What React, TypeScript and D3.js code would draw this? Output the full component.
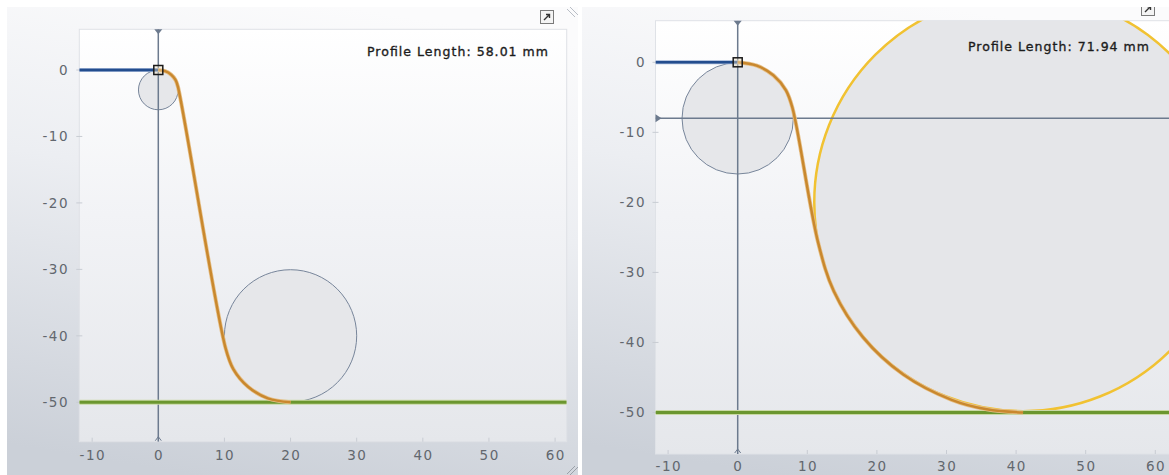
import React from 'react';
import * as d3 from 'd3';

// ---------- data ----------
const xTicks = [-10, 0, 10, 20, 30, 40, 50, 60];
const yTicks = [0, -10, -20, -30, -40, -50];
const profileLengths = [58.01, 71.94];
const floorLevels = [-50, -50];
const horizontalCursor = [null, -8];

// tool circles: [cx, cy, r]
const leftDies = [[0, -3, 3], [20, -40, 10]];
const rightDies = [[0, -8, 8]];
const rightRolls = [[41, -20, 30]];

// orange formed profile
const leftProfile = [
  [0, 0], [1.03, -0.18], [1.93, -0.7], [2.6, -1.5], [2.95, -2.46],
  [10.16, -41.8], [11.34, -45], [13.57, -47.66], [16.58, -49.4], [20, -50],
];
const rightProfile = [
  [0, 0], [2.74, -0.48], [5.14, -1.87], [6.93, -4], [7.86, -6.49],
  [11.54, -25.67], [13.81, -32.68], [18.02, -39.28], [23.79, -44.57],
  [30.74, -48.19], [35.79, -49.54], [41, -50],
];

// ---------- layout (pixels) ----------
const layouts = [
  {
    id: 'L', panelX: 7, panelW: 571, plotL: 79.3, plotR: 566.7, plotT: 29.3, plotB: 441.7,
    x0: 158.3, xUnit: 6.613, y0: 70, yUnit: 6.646,
    xLabelBase: 459.5, yLabelRight: 69, textRight: 548, textBase: 56,
    iconX: 540, iconY: 10,
  },
  {
    id: 'R', panelX: 582, panelW: 600, plotL: 655.5, plotR: 1175, plotT: 20.7, plotB: 454,
    x0: 737.7, xUnit: 6.96, y0: 62.3, yUnit: 7.004,
    xLabelBase: 471, yLabelRight: 646, textRight: 1149, textBase: 51,
    iconX: 1141, iconY: 2,
  },
];

const panelData = [
  { profile: leftProfile, dies: leftDies, rolls: [] as number[][] },
  { profile: rightProfile, dies: rightDies, rolls: rightRolls },
];

const FONT = '"DejaVu Sans", Verdana, sans-serif';

function Panel({ idx }: { idx: number }) {
  const L = layouts[idx];
  const D = panelData[idx];
  const x = d3.scaleLinear().domain([0, 60]).range([L.x0, L.x0 + 60 * L.xUnit]);
  const y = d3.scaleLinear().domain([0, -50]).range([L.y0, L.y0 + 50 * L.yUnit]);
  const xMin = x.invert(L.plotL);
  const line = d3
    .line<number[]>()
    .x((d) => x(d[0]))
    .y((d) => y(d[1]))
    .curve(d3.curveCatmullRom.alpha(0.5));
  const straight = d3
    .line<number[]>()
    .x((d) => x(d[0]))
    .y((d) => y(d[1]));
  const feed = [[xMin, 0], [0, 0]];
  const floor = floorLevels[idx];
  const hc = horizontalCursor[idx];
  const clipId = `clip${L.id}`;
  const plotW = L.plotR - L.plotL;
  const plotH = L.plotB - L.plotT;
  const vx = x(0);

  return (
    <g>
      <defs>
        <linearGradient id={`bg${L.id}`} x1="0.6" y1="0" x2="0.4" y2="1">
          <stop offset="0" stopColor="#fbfbfc" />
          <stop offset="0.4" stopColor="#eceef2" />
          <stop offset="1" stopColor="#cbd0d8" />
        </linearGradient>
        <linearGradient id={`pl${L.id}`} x1="0" y1="0" x2="0" y2="1">
          <stop offset="0" stopColor="#ffffff" />
          <stop offset="0.45" stopColor="#f2f3f6" />
          <stop offset="1" stopColor="#e5e7eb" />
        </linearGradient>
        <clipPath id={clipId}>
          <rect x={L.plotL} y={L.plotT} width={plotW} height={plotH} />
        </clipPath>
      </defs>
      <rect x={L.panelX} y={7} width={L.panelW} height={475} fill={`url(#bg${L.id})`} />
      <rect x={L.plotL} y={L.plotT} width={plotW} height={plotH} fill={`url(#pl${L.id})`} stroke="#dfe2e7" strokeWidth={1} />

      {/* y axis */}
      {yTicks.map((t) => (
        <g key={`y${t}`}>
          <line x1={L.plotL - 3} x2={L.plotL + 3} y1={y(t)} y2={y(t)} stroke="#c8ccd3" strokeWidth={1} />
          <text x={L.yLabelRight} y={y(t) + 4.7} textAnchor="end" fontFamily={FONT} fontSize={13.5} letterSpacing={1.5} fill="#62676e">
            {t}
          </text>
        </g>
      ))}
      {/* x axis */}
      {xTicks.map((t) => (
        <g key={`x${t}`}>
          <line x1={x(t)} x2={x(t)} y1={L.plotB - 4} y2={L.plotB} stroke="#c8ccd3" strokeWidth={1} />
          <text x={x(t) + 0.7} y={L.xLabelBase} textAnchor="middle" fontFamily={FONT} fontSize={13.5} letterSpacing={1.5} fill="#62676e">
            {t}
          </text>
        </g>
      ))}

      <g clipPath={`url(#${clipId})`}>
        {D.dies.map((c, i) => (
          <circle key={`d${i}`} cx={x(c[0])} cy={y(c[1])} r={x(c[2]) - x(0)} fill="#e6e7ea" stroke="#77859a" strokeWidth={1} />
        ))}
        {D.rolls.map((c, i) => (
          <circle key={`r${i}`} cx={x(c[0])} cy={y(c[1])} r={x(c[2]) - x(0)} fill="#e5e6e9" stroke="#f1c232" strokeWidth={2.5} />
        ))}
        {/* crosshair */}
        <line x1={vx} x2={vx} y1={L.plotT} y2={L.plotB} stroke="#6c7a8e" strokeWidth={1.5} />
        {hc !== null && (
          <line x1={L.plotL} x2={L.plotR} y1={y(hc as number)} y2={y(hc as number)} stroke="#6c7a8e" strokeWidth={1.5} />
        )}
        {/* floor */}
        <line x1={L.plotL} x2={L.plotR} y1={y(floor)} y2={y(floor)} stroke="#c9d9a4" strokeWidth={5} />
        <line x1={L.plotL} x2={L.plotR} y1={y(floor)} y2={y(floor)} stroke="#6b962f" strokeWidth={3} />
        {/* feed */}
        <path d={straight(feed) || ''} fill="none" stroke="#9fb3d4" strokeWidth={4} />
        <path d={straight(feed) || ''} fill="none" stroke="#234d8e" strokeWidth={2.5} />
        {/* profile */}
        <path d={line(D.profile) || ''} fill="none" stroke="#e6c08a" strokeWidth={4} strokeLinejoin="round" />
        <path d={line(D.profile) || ''} fill="none" stroke="#c9882e" strokeWidth={2.5} strokeLinejoin="round" />
        {/* start marker */}
        <rect x={x(0) - 4.5} y={y(0) - 4.5} width={9} height={9} fill="#f3e3c4" fillOpacity={0.4} stroke="#1a1a1a" strokeWidth={1.5} />
      </g>
      {/* crosshair end markers */}
      <path d={`M${vx - 4},${L.plotT} L${vx + 4},${L.plotT} L${vx},${L.plotT + 5} Z`} fill="#6c7a8e" />
      <path d={`M${vx - 3},${L.plotB - 1} L${vx},${L.plotB - 5} L${vx + 3},${L.plotB - 1}`} fill="none" stroke="#6c7a8e" strokeWidth={1} />
      {hc !== null && (
        <path d={`M${L.plotL},${y(hc as number) - 4} L${L.plotL + 6},${y(hc as number)} L${L.plotL},${y(hc as number) + 4} Z`} fill="#6c7a8e" />
      )}

      <text x={L.textRight} y={L.textBase} textAnchor="end" fontFamily={FONT} fontSize={12.5} fill="#1c1c1c" stroke="#1c1c1c" strokeWidth={0.35} textLength={181} lengthAdjust="spacing">
        {`Profile Length: ${profileLengths[idx].toFixed(2)} mm`}
      </text>

      {/* expand icon */}
      <g>
        <rect x={L.iconX + 0.5} y={L.iconY + 0.5} width={13} height={13} fill="#f4f4f4" stroke="#7a7a7a" strokeWidth={1} />
        <path d={`M${L.iconX + 4},${L.iconY + 10} L${L.iconX + 9.5},${L.iconY + 4.5} M${L.iconX + 6},${L.iconY + 4.5} L${L.iconX + 9.5},${L.iconY + 4.5} L${L.iconX + 9.5},${L.iconY + 8}`} fill="none" stroke="#333" strokeWidth={1.4} />
      </g>
    </g>
  );
}

export default function App() {
  return (
    <svg width={1169} height={475} style={{ position: 'absolute', left: 0, top: 0, display: 'block' }}>
      <rect x={0} y={0} width={1169} height={475} fill="#ffffff" />
      <Panel idx={0} />
      <Panel idx={1} />
      {/* top white strip covering right icon partly */}
      <rect x={582} y={0} width={587} height={7} fill="#ffffff" />
      {/* resize grips */}
      <path d="M567,9 L575,17 M570,7 L578,15" stroke="#b9bec6" strokeWidth={1} />
      <path d="M567,474 L575,466 M570,475 L578,467" stroke="#9aa0a8" strokeWidth={1} />
    </svg>
  );
}
